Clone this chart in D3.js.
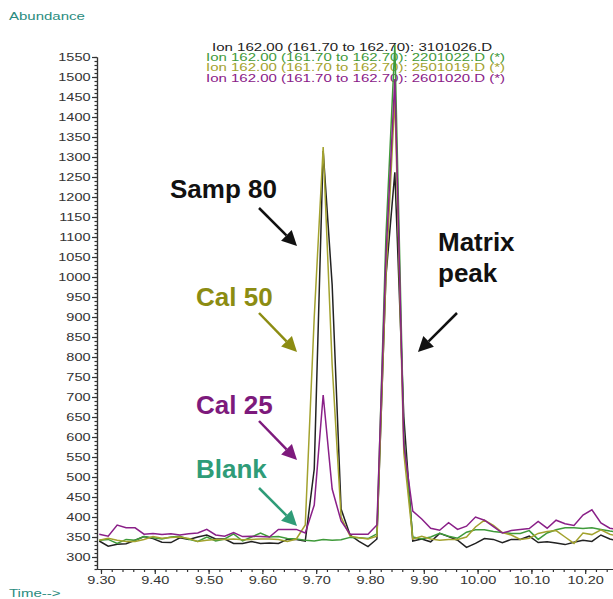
<!DOCTYPE html>
<html>
<head>
<meta charset="utf-8">
<script src="https://cdn.jsdelivr.net/npm/d3@7"></script>
<style>
  body { margin: 0; background: #fff; }
  svg { display: block; font-family: "Liberation Sans", Arial, Helvetica, sans-serif; }
</style>
</head>
<body>
<figure id="chrom" style="margin:0"></figure>
<script>
// scan times (minutes)
var times = [9.2968, 9.3134, 9.3301, 9.3467, 9.3634, 9.3800, 9.3967, 9.4133, 9.4300, 9.4466,
  9.4633, 9.4799, 9.4966, 9.5132, 9.5299, 9.5465, 9.5632, 9.5798, 9.5965, 9.6131,
  9.6298, 9.6464, 9.6631, 9.6797, 9.6964, 9.7130, 9.7297, 9.7463, 9.7630, 9.7796,
  9.7963, 9.8129, 9.8296, 9.8462, 9.8629, 9.8795, 9.8962, 9.9128, 9.9295, 9.9461,
  9.9628, 9.9794, 9.9961, 10.0127, 10.0294, 10.0460, 10.0627, 10.0793, 10.0960, 10.1126,
  10.1293, 10.1459, 10.1626, 10.1792, 10.1959, 10.2125, 10.2292, 10.2458, 10.2625];

// abundance for each file
var samp80 = [340, 327, 332, 333, 342, 351, 346, 337, 336, 348,
  344, 350, 355, 345, 345, 334, 334, 339, 334, 335,
  334, 344, 344, 340, 520, 1315, 980, 420, 355, 339,
  326, 345, 1000, 1262, 650, 340, 345, 338, 359, 351,
  342, 324, 334, 346, 344, 336, 344, 344, 352, 336,
  338, 335, 331, 337, 342, 339, 355, 345, 340];
var blank = [342, 344, 334, 344, 342, 351, 348, 345, 350, 352,
  344, 339, 350, 340, 345, 358, 340, 350, 360, 350,
  351, 346, 345, 342, 340, 344, 342, 343, 349, 348,
  346, 358, 1100, 1580, 600, 350, 345, 350, 359, 352,
  347, 362, 368, 368, 364, 361, 359, 359, 366, 344,
  360, 368, 373, 373, 371, 373, 369, 365, 362];
var cal50 = [342, 347, 342, 339, 339, 344, 351, 347, 349, 350,
  346, 339, 342, 344, 344, 345, 343, 344, 345, 345,
  344, 339, 345, 380, 900, 1325, 780, 400, 352, 348,
  345, 352, 1000, 1450, 560, 345, 352, 345, 342, 344,
  344, 350, 375, 392, 379, 361, 355, 344, 347, 359,
  364, 366, 350, 334, 360, 356, 368, 357, 352];
var cal25 = [357, 352, 380, 373, 373, 357, 359, 356, 358, 355,
  358, 360, 369, 355, 352, 361, 351, 352, 351, 350,
  369, 369, 369, 360, 430, 705, 470, 390, 357, 357,
  357, 380, 1050, 1495, 580, 415, 395, 372, 367, 386,
  369, 377, 400, 392, 376, 360, 366, 369, 371, 389,
  372, 392, 383, 379, 405, 418, 385, 372, 368];

var legendLines = [
  "Ion 162.00 (161.70 to 162.70): 3101026.D",
  "Ion 162.00 (161.70 to 162.70): 2201022.D (*)",
  "Ion 162.00 (161.70 to 162.70): 2501019.D (*)",
  "Ion 162.00 (161.70 to 162.70): 2601020.D (*)"
];
var yMajor = d3.range(300, 1551, 50);
var yMinor = d3.range(270, 1551, 10);
var xMajor = [9.30, 9.40, 9.50, 9.60, 9.70, 9.80, 9.90, 10.00, 10.10, 10.20];
var xMinor = d3.range(0, 48).map(function(i) { return 9.30 + i * 0.02; });

var colBlack = "#222222", colGreen = "#3f9a3a", colOlive = "#a3a22e", colPurple = "#8a2088";

var width = 613, height = 599;

var svg = d3.select("figure#chrom")
  .append("svg")
  .attr("width", width)
  .attr("height", height);

// stretch small text sideways, the scan looks squashed
function stretch(sel, k) {
  sel.each(function() {
    var w = this.getComputedTextLength();
    d3.select(this).attr("textLength", w * k).attr("lengthAdjust", "spacingAndGlyphs");
  });
}

var x = d3.scaleLinear().domain([9.2926, 10.2517]).range([97, 613]);
var y = d3.scaleLinear().domain([270, 1550]).range([569, 57]);

// axis titles
svg.append("text").attr("x", 9).attr("y", 20)
  .attr("font-size", 10).attr("fill", "#2a8c80").text("Abundance")
  .call(stretch, 1.5);
svg.append("text").attr("x", 9).attr("y", 597)
  .attr("font-size", 10).attr("fill", "#2a8c80").text("Time-->")
  .call(stretch, 1.5);

// y axis
var yAxis = svg.append("g").attr("transform", "translate(97,0)")
  .call(d3.axisLeft(y).tickValues(yMajor).tickSize(5).tickSizeOuter(0).tickPadding(1.5)
    .tickFormat(d3.format("d")));
svg.append("g").attr("transform", "translate(97,0)")
  .call(d3.axisLeft(y).tickValues(yMinor).tickSize(2.5).tickSizeOuter(0).tickFormat(""));

// x axis
var xAxis = svg.append("g").attr("transform", "translate(0,569)")
  .call(d3.axisBottom(x).tickValues(xMajor).tickSize(5).tickSizeOuter(0).tickPadding(3)
    .tickFormat(d3.format(".2f")));
svg.append("g").attr("transform", "translate(0,569)")
  .call(d3.axisBottom(x).tickValues(xMinor).tickSize(3).tickSizeOuter(0).tickFormat(""));

svg.selectAll(".domain, .tick line").attr("stroke", "#333").attr("stroke-width", 1.2);
svg.selectAll(".tick text").attr("fill", "#333").attr("font-size", 10)
  .attr("font-family", "Liberation Sans, Arial, sans-serif");
yAxis.selectAll(".tick text").call(stretch, 1.45);
xAxis.selectAll(".tick text").call(stretch, 1.45);

// legend at top
var legendCols = [colBlack, colGreen, colOlive, colPurple];
var legendX = [212, 206, 206, 206];
var legendW = [280, 299, 299, 299];
svg.selectAll(".leg")
  .data(legendLines)
  .enter()
  .append("text")
  .attr("class", "leg")
  .attr("x", function(d, i) { return legendX[i]; })
  .attr("y", function(d, i) { return 51 + i * 10.2; })
  .attr("font-size", 10)
  .attr("fill", function(d, i) { return legendCols[i]; })
  .attr("textLength", function(d, i) { return legendW[i]; })
  .attr("lengthAdjust", "spacingAndGlyphs")
  .text(function(d) { return d; });

// traces
var line = d3.line()
  .x(function(d, i) { return x(times[i]); })
  .y(function(d) { return y(d); });

var traces = [
  {vals: samp80, col: colBlack},
  {vals: blank, col: colGreen},
  {vals: cal50, col: colOlive},
  {vals: cal25, col: colPurple}
];
svg.selectAll(".trace")
  .data(traces)
  .enter()
  .append("path")
  .attr("class", "trace")
  .attr("fill", "none")
  .attr("stroke", function(d) { return d.col; })
  .attr("stroke-width", 1.5)
  .attr("stroke-linejoin", "miter")
  .attr("d", function(d) { return line(d.vals); });

// callouts with arrows
var notes = [
  {txt: ["Samp 80"], col: "#111111", tx: 170, ty: 198, a: [259, 208, 297, 246]},
  {txt: ["Cal 50"], col: "#8c8c12", tx: 196, ty: 306, a: [259, 313, 297, 352]},
  {txt: ["Cal 25"], col: "#7d1a7c", tx: 196, ty: 414, a: [259, 421, 297, 460]},
  {txt: ["Blank"], col: "#2f9c78", tx: 196, ty: 478, a: [259, 488, 297, 526]},
  {txt: ["Matrix", "peak"], col: "#111111", tx: 438, ty: 251, a: [457, 313, 418, 352]}
];

notes.forEach(function(n) {
  n.txt.forEach(function(t, j) {
    svg.append("text")
      .attr("x", n.tx).attr("y", n.ty + j * 31)
      .attr("font-size", 26).attr("font-weight", "bold")
      .attr("fill", n.col)
      .text(t);
  });
  var x1 = n.a[0], y1 = n.a[1], x2 = n.a[2], y2 = n.a[3];
  var ang = Math.atan2(y2 - y1, x2 - x1);
  var len = 15, half = 7.5;
  var bx = x2 - len * Math.cos(ang), by = y2 - len * Math.sin(ang);
  svg.append("line")
    .attr("x1", x1).attr("y1", y1).attr("x2", bx).attr("y2", by)
    .attr("stroke", n.col).attr("stroke-width", 2.5);
  svg.append("path")
    .attr("d", "M" + x2 + "," + y2 +
      "L" + (bx + half * Math.sin(ang)) + "," + (by - half * Math.cos(ang)) +
      "L" + (bx - half * Math.sin(ang)) + "," + (by + half * Math.cos(ang)) + "Z")
    .attr("fill", n.col);
});
</script>
</body>
</html>
